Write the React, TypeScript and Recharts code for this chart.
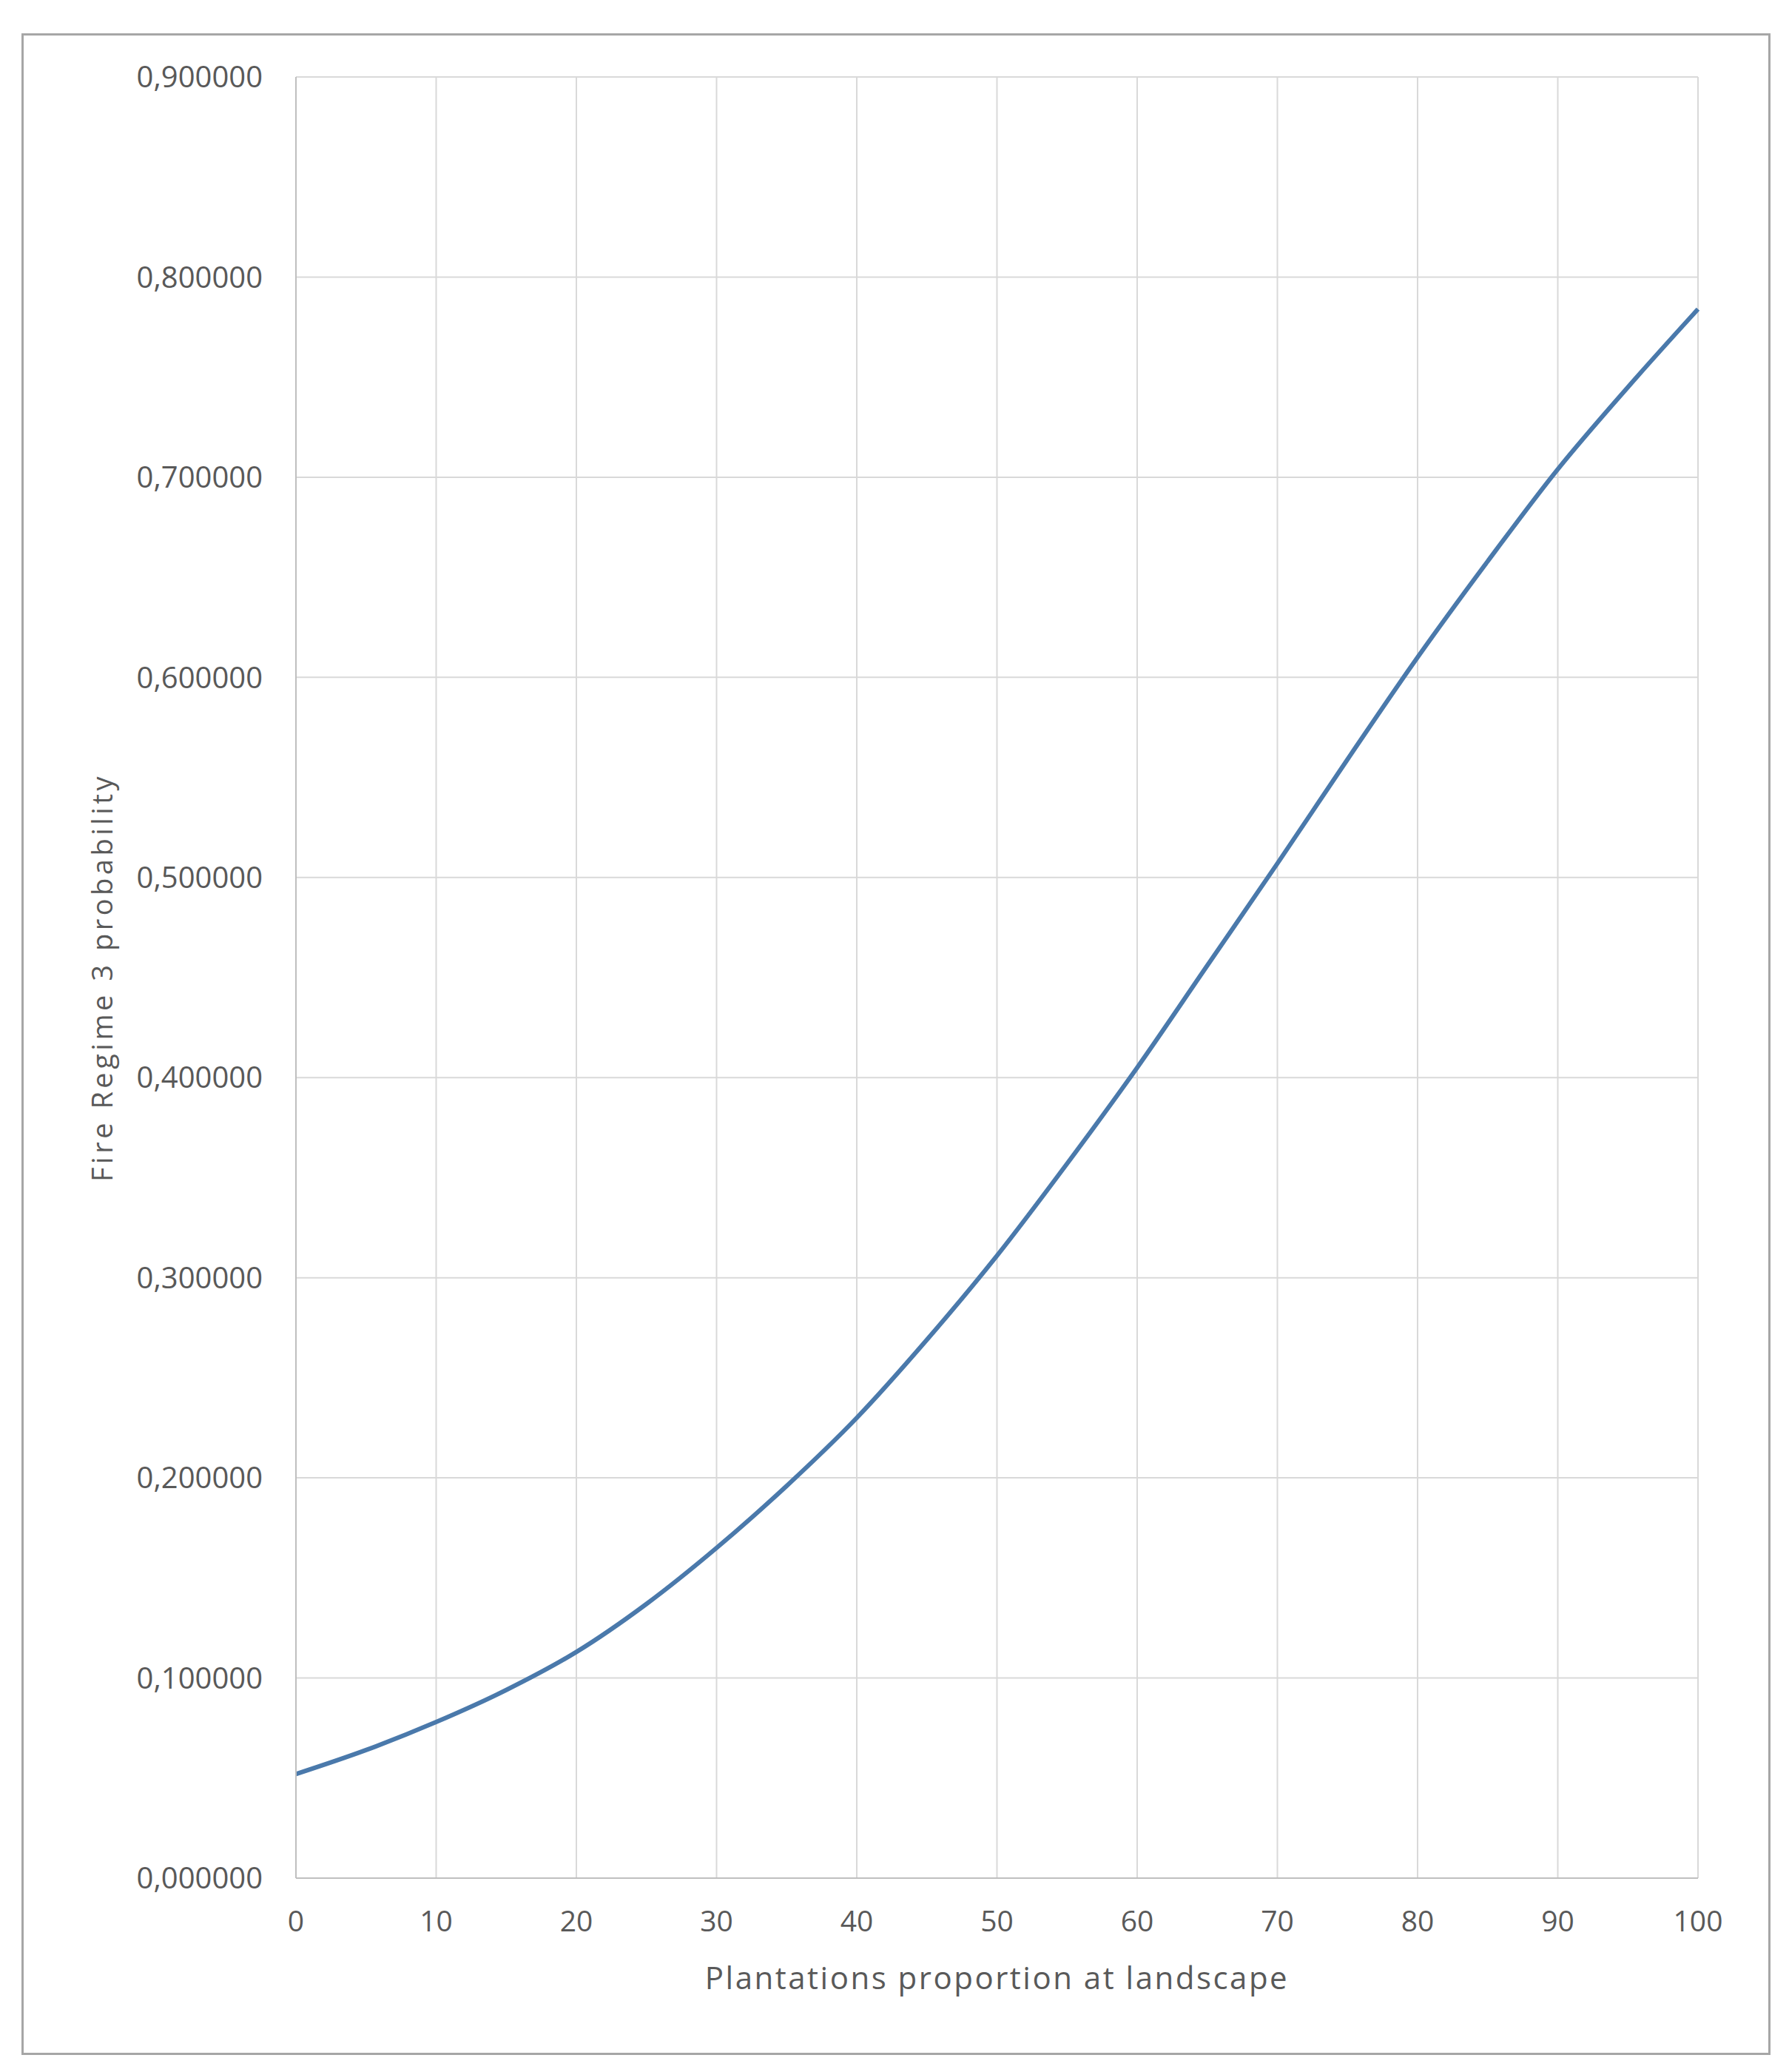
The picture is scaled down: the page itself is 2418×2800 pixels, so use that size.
import * as React from "react";
import { LineChart, Line, XAxis, YAxis, CartesianGrid, Label } from "recharts";

// values
const plantationShare = [0, 5, 10, 15, 20, 25, 30, 35, 40, 45, 50, 55, 60, 65, 70, 75, 80, 85, 90, 95, 100];
const regime3Probability = [
  0.052, 0.064, 0.078, 0.094, 0.113, 0.137, 0.165, 0.196, 0.23, 0.269, 0.311,
  0.357, 0.405, 0.456, 0.507, 0.559, 0.61, 0.658, 0.704, 0.745, 0.784,
];
const xTicks = [0, 10, 20, 30, 40, 50, 60, 70, 80, 90, 100];
const yTicks = [0, 0.1, 0.2, 0.3, 0.4, 0.5, 0.6, 0.7, 0.8, 0.9];

const data = plantationShare.map((x, i) => ({ x, p: regime3Probability[i] }));

const FONT = "'Open Sans', sans-serif";
const TEXT = "#595959";

const fmtY = (v: number) => v.toFixed(6).replace(".", ",");

export default function App() {
  return (
    <div style={{ position: "absolute", left: 0, top: 0, width: 2418, height: 2800, background: "#fff" }}>
      <div
        style={{
          position: "absolute",
          left: 29,
          top: 45,
          width: 2358,
          height: 2726,
          border: "3px solid #a6a6a6",
        }}
      />
      <div style={{ position: "absolute", left: 0, top: 0 }}>
        <LineChart
          width={2418}
          height={2800}
          data={data}
          margin={{ top: 104, right: 123, bottom: 162, left: 100 }}
        >
          <CartesianGrid stroke="#d9d9d9" strokeWidth={2} />
          <XAxis
            dataKey="x"
            type="number"
            domain={[0, 100]}
            ticks={xTicks}
            height={100}
            tickSize={0}
            tickMargin={44}
            axisLine={{ stroke: "#bfbfbf", strokeWidth: 2 }}
            tick={{ fill: TEXT, fontSize: 39, fontFamily: FONT }}
          >
            <Label
              value="Plantations proportion at landscape"
              position="bottom"
              offset={20}
              style={{ fill: TEXT, fontSize: 42, fontFamily: FONT, letterSpacing: 2.5 }}
            />
          </XAxis>
          <YAxis
            type="number"
            domain={[0, 0.9]}
            ticks={yTicks}
            width={300}
            tickSize={0}
            tickMargin={45}
            axisLine={{ stroke: "#bfbfbf", strokeWidth: 2 }}
            tickFormatter={fmtY}
            tick={{ fill: TEXT, fontSize: 40, fontFamily: FONT }}
          >
            <Label
              content={({ viewBox }: any) => {
                const cx = 137;
                const cy = viewBox.y + viewBox.height / 2;
                return (
                  <text
                    x={cx}
                    y={cy}
                    transform={`rotate(-90, ${cx}, ${cy})`}
                    textAnchor="middle"
                    dominantBaseline="central"
                    fill={TEXT}
                    fontSize={38}
                    fontFamily={FONT}
                    letterSpacing={4.5}
                  >
                    Fire Regime 3 probability
                  </text>
                );
              }}
            />
          </YAxis>
          <Line
            type="monotone"
            dataKey="p"
            stroke="#4a79ab"
            strokeWidth={6}
            dot={false}
            isAnimationActive={false}
          />
        </LineChart>
      </div>
    </div>
  );
}
